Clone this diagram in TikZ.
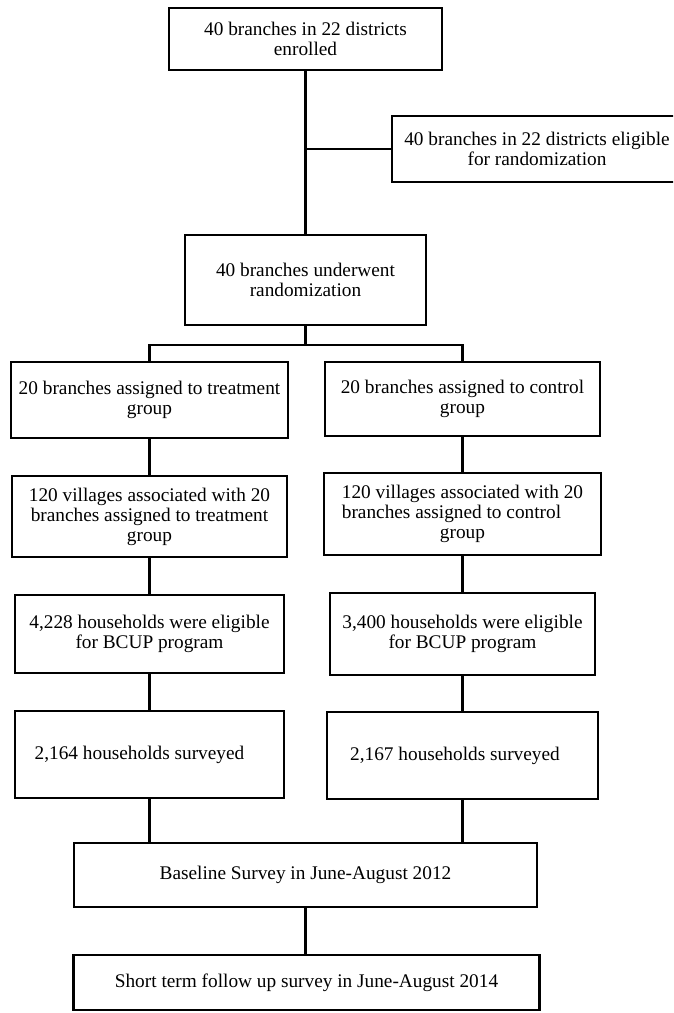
\documentclass[tikz,border=0pt]{standalone}
\usepackage{fontspec}
\setmainfont{Liberation Serif}
\usepackage{calc}
\begin{document}
\begin{tikzpicture}[x=1pt,y=-1pt,
  box/.style={draw=black, line width=2.5pt, inner sep=0pt, align=center,
    font=\fontsize{19.3}{20}\selectfont},
  link/.style={draw=black, line width=2.5pt}]
\useasboundingbox (0,0) rectangle (673,1013);
\clip (0,0) rectangle (673,1013);
% boxes
\node[box, minimum width=273pt, minimum height=62pt] (b1) at (305.5,39) {40 branches in 22 districts\\enrolled};
\node[box, minimum width=290pt, minimum height=66pt] (b2) at (537,149) {40 branches in 22 districts eligible\\for randomization};
\node[box, minimum width=241pt, minimum height=90pt] (b3) at (305.5,280) {40 branches underwent\\randomization};
\node[box, minimum width=277pt, minimum height=76pt] (t1) at (149.5,400) {20 branches assigned to treatment\\group};
\node[box, minimum width=275pt, minimum height=74pt] (c1) at (462.5,399) {20 branches assigned to control\\group};
\node[box, minimum width=275pt, minimum height=81pt] (t2) at (149.5,516.5) {120 villages associated with 20\\branches assigned to treatment\\group};
\node[box, minimum width=277pt, minimum height=82pt] (c2) at (462.5,514) {120 villages associated with 20\\\makebox[\widthof{120 villages associated with 20}][l]{branches assigned to control}\\group};
\node[box, minimum width=269pt, minimum height=78pt] (t3) at (149.5,634) {4,228 households were eligible\\for BCUP program};
\node[box, minimum width=265pt, minimum height=82pt] (c3) at (462.5,634) {3,400 households were eligible\\for BCUP program};
\node[box, minimum width=269pt, minimum height=87pt] (t4) at (149.5,754.5) {2,164 households surveyed\hspace*{20pt}};
\node[box, minimum width=271pt, minimum height=87pt] (c4) at (462.5,755.5) {2,167 households surveyed\hspace*{15pt}};
\node[box, minimum width=463pt, minimum height=64pt] (b8) at (305.5,875) {Baseline Survey in June-August 2012};
\node[box, minimum width=466pt, minimum height=55pt] (b9) at (306.5,982.5) {Short term follow up survey in June-August 2014};
% connectors
\coordinate (split) at (305.5,345);
\draw[link] (b1) -- (b3);
\draw[link] (b1.south |- b2.west) -- (b2.west);
\draw[link] (b3.south) -- (split);
\draw[link] (t1.north) |- (split) -| (c1.north);
\draw[link] (t1) -- (t2);
\draw[link] (t2) -- (t3);
\draw[link] (t3) -- (t4);
\draw[link] (c1) -- (c2);
\draw[link] (c2) -- (c3);
\draw[link] (c3) -- (c4);
\draw[link] (t4.south) -- (t4.south |- b8.north);
\draw[link] (c4.south) -- (c4.south |- b8.north);
\draw[link] (b8) -- (b8.south |- b9.north);
\end{tikzpicture}
\end{document}
